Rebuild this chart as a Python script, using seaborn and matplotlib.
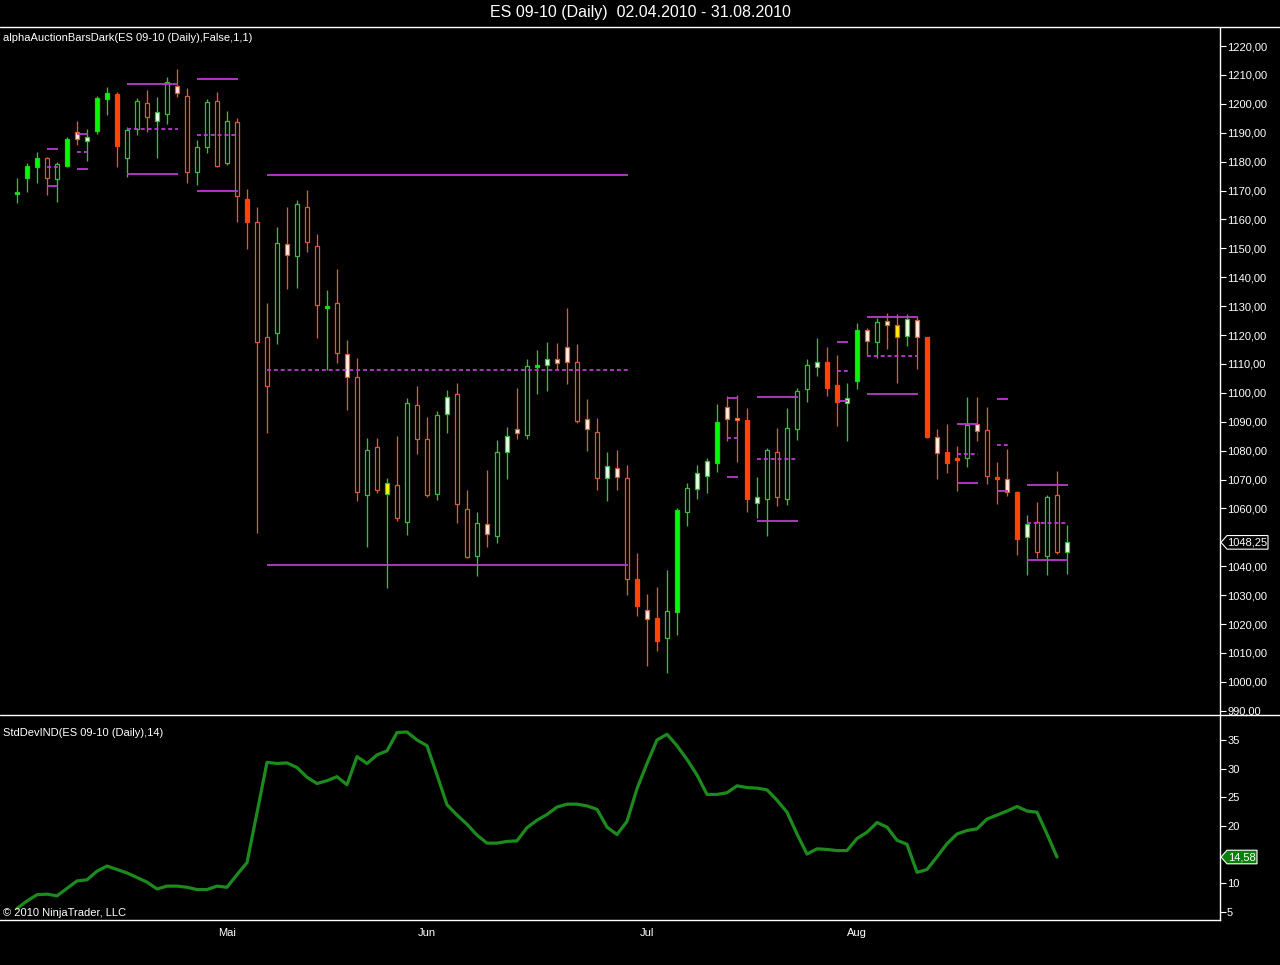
import numpy as np
import pandas as pd
import matplotlib
matplotlib.use("Agg")
import matplotlib.pyplot as plt
import seaborn as sns
from matplotlib.lines import Line2D
from matplotlib.patches import Polygon
from matplotlib.transforms import IdentityTransform

# ---------------- data ----------------
title = "ES 09-10 (Daily)  02.04.2010 - 31.08.2010"
price_label = "alphaAuctionBarsDark(ES 09-10 (Daily),False,1,1)"
ind_label = "StdDevIND(ES 09-10 (Daily),14)"
copyright_label = "\u00a9 2010 NinjaTrader, LLC"

opens = [1168.7, 1174.2, 1178.2, 1181.4, 1173.9, 1178.5, 1190.1, 1187.2, 1190.7, 1201.7,
         1203.4, 1181.1, 1191.2, 1200.2, 1194.0, 1196.4, 1206.3, 1202.8, 1176.5, 1185.2,
         1201.0, 1179.6, 1193.6, 1167.0, 1159.0, 1119.2, 1120.6, 1151.4, 1147.2, 1164.2,
         1150.8, 1129.2, 1131.0, 1113.3, 1105.4, 1064.7, 1081.1, 1064.9, 1068.1, 1055.4,
         1095.7, 1083.9, 1064.9, 1092.6, 1099.5, 1059.7, 1043.6, 1054.5, 1050.5, 1079.6,
         1087.4, 1085.4, 1109.0, 1109.7, 1111.6, 1116.0, 1110.5, 1090.8, 1086.3, 1070.4,
         1074.1, 1070.4, 1035.5, 1024.8, 1022.2, 1015.0, 1024.1, 1058.6, 1066.6, 1071.3,
         1075.8, 1095.0, 1091.2, 1090.6, 1061.8, 1063.1, 1079.4, 1063.1, 1087.4, 1101.2,
         1109.0, 1110.5, 1102.7, 1096.4, 1104.1, 1121.7, 1117.7, 1124.9, 1123.3, 1119.6,
         1125.2, 1119.2, 1084.8, 1079.4, 1077.5, 1077.3, 1089.1, 1087.1, 1070.9, 1070.1,
         1065.6, 1050.0, 1055.2, 1043.6, 1064.6, 1045.0]

highs = [1174.2, 1179.4, 1183.4, 1181.7, 1180.0, 1188.4, 1194.2, 1191.3, 1202.7, 1205.7,
         1204.0, 1192.1, 1201.9, 1204.8, 1202.2, 1209.2, 1211.9, 1205.4, 1187.5, 1201.7,
         1204.2, 1197.6, 1195.0, 1170.5, 1164.4, 1131.0, 1157.3, 1164.2, 1166.7, 1170.2,
         1155.0, 1135.6, 1142.8, 1118.3, 1111.9, 1084.3, 1084.4, 1070.4, 1085.1, 1098.3,
         1102.4, 1091.7, 1093.7, 1101.0, 1103.3, 1066.4, 1058.6, 1073.3, 1083.7, 1088.3,
         1101.8, 1111.7, 1114.8, 1117.7, 1117.1, 1129.2, 1116.9, 1097.9, 1091.2, 1079.4,
         1080.2, 1075.0, 1044.5, 1030.3, 1032.9, 1038.7, 1060.0, 1068.9, 1075.0, 1077.3,
         1096.1, 1098.9, 1099.1, 1094.6, 1071.0, 1080.8, 1087.7, 1094.6, 1101.6, 1111.6,
         1118.9, 1116.0, 1113.1, 1103.3, 1124.0, 1122.5, 1125.8, 1127.5, 1127.1, 1127.1,
         1126.4, 1119.4, 1087.5, 1089.1, 1081.6, 1098.4, 1098.4, 1095.0, 1076.2, 1080.4,
         1066.0, 1057.7, 1062.1, 1064.6, 1072.9, 1054.3]

lows = [1165.6, 1169.6, 1172.5, 1168.4, 1166.1, 1178.2, 1185.7, 1180.3, 1189.5, 1196.1,
        1178.0, 1174.8, 1189.2, 1190.1, 1181.1, 1193.0, 1202.2, 1172.7, 1171.9, 1182.9,
        1178.0, 1178.8, 1159.2, 1149.8, 1051.4, 1086.0, 1116.8, 1135.8, 1136.4, 1148.8,
        1119.1, 1107.9, 1110.4, 1094.0, 1062.7, 1046.7, 1065.4, 1032.4, 1055.7, 1050.8,
        1078.7, 1064.0, 1062.9, 1086.2, 1054.8, 1042.7, 1036.7, 1046.7, 1047.9, 1070.2,
        1084.0, 1084.0, 1099.6, 1100.7, 1107.9, 1103.0, 1089.4, 1079.9, 1066.4, 1062.7,
        1066.4, 1030.0, 1022.8, 1005.6, 1010.8, 1002.9, 1016.2, 1054.0, 1063.1, 1065.2,
        1072.7, 1083.4, 1076.2, 1058.9, 1056.6, 1050.6, 1060.8, 1061.2, 1083.7, 1096.9,
        1105.9, 1099.0, 1088.6, 1083.3, 1101.2, 1113.1, 1112.2, 1115.2, 1103.5, 1116.3,
        1108.1, 1084.3, 1070.2, 1072.1, 1066.0, 1074.4, 1083.3, 1068.4, 1061.5, 1064.4,
        1043.9, 1037.0, 1043.0, 1037.0, 1044.1, 1037.2]

closes = [1169.4, 1178.5, 1181.4, 1174.2, 1179.1, 1187.8, 1187.7, 1188.5, 1201.9, 1203.9,
          1185.5, 1190.9, 1201.0, 1195.5, 1197.0, 1207.4, 1203.6, 1176.3, 1185.2, 1200.7,
          1178.5, 1194.0, 1168.1, 1159.2, 1117.7, 1102.5, 1151.7, 1147.6, 1165.3, 1152.1,
          1130.5, 1130.0, 1113.9, 1105.4, 1065.6, 1080.2, 1066.4, 1068.7, 1056.8, 1096.4,
          1083.9, 1064.6, 1092.3, 1098.7, 1061.4, 1043.3, 1054.8, 1051.0, 1079.4, 1085.1,
          1086.2, 1109.3, 1109.6, 1111.6, 1110.2, 1110.5, 1090.4, 1087.4, 1070.4, 1074.8,
          1071.0, 1035.5, 1026.3, 1021.8, 1014.2, 1024.5, 1059.4, 1067.0, 1072.4, 1076.5,
          1089.8, 1090.8, 1090.5, 1063.1, 1063.8, 1080.2, 1064.1, 1087.7, 1100.6, 1109.6,
          1110.8, 1101.8, 1096.9, 1098.2, 1121.7, 1118.0, 1124.4, 1123.3, 1119.4, 1125.5,
          1119.4, 1084.6, 1079.3, 1075.8, 1076.8, 1088.9, 1086.8, 1071.2, 1070.3, 1065.6,
          1049.4, 1054.5, 1044.8, 1063.8, 1045.0, 1048.25]

bar_kind = ['G', 'G', 'G', 'r', 'g', 'G', 'wr', 'wg', 'G', 'G',
            'R', 'g', 'g', 'r', 'wg', 'g', 'wr', 'r', 'g', 'g',
            'r', 'g', 'r', 'R', 'r', 'r', 'g', 'wr', 'g', 'r',
            'r', 'G', 'r', 'wr', 'r', 'g', 'r', 'yg', 'r', 'g',
            'r', 'r', 'g', 'wg', 'r', 'r', 'g', 'wr', 'g', 'wg',
            'wr', 'g', 'G', 'wg', 'wr', 'wr', 'r', 'wr', 'r', 'wg',
            'wr', 'r', 'R', 'wr', 'R', 'g', 'G', 'g', 'wg', 'wg',
            'G', 'wr', 'wr', 'R', 'wg', 'g', 'r', 'g', 'g', 'g',
            'wg', 'R', 'R', 'wg', 'G', 'wr', 'g', 'wr', 'yr', 'wg',
            'wr', 'R', 'wr', 'R', 'R', 'g', 'wr', 'r', 'R', 'wr',
            'R', 'wg', 'r', 'g', 'r', 'wg']

stddev = [5.6, 6.9, 8.0, 8.1, 7.8, 9.1, 10.4, 10.6, 12.1, 13.0,
          12.4, 11.8, 11.0, 10.2, 9.0, 9.5, 9.5, 9.3, 8.9, 8.9,
          9.5, 9.3, 11.5, 13.6, 22.3, 31.1, 30.9, 31.0, 30.2, 28.5,
          27.4, 27.9, 28.6, 27.2, 32.1, 30.9, 32.4, 33.1, 36.3, 36.4,
          35.0, 34.0, 28.9, 23.7, 21.9, 20.3, 18.4, 17.0, 17.0, 17.3,
          17.4, 19.7, 21.0, 22.0, 23.3, 23.8, 23.8, 23.5, 22.9, 19.8,
          18.5, 20.8, 26.5, 30.9, 35.0, 36.0, 34.0, 31.6, 28.9, 25.5,
          25.5, 25.8, 27.0, 26.7, 26.6, 26.3, 24.5, 22.4, 18.6, 15.1,
          16.0, 15.9, 15.7, 15.7, 17.8, 18.9, 20.6, 19.8, 17.5, 16.8,
          11.9, 12.4, 14.6, 16.9, 18.6, 19.2, 19.5, 21.2, 21.9, 22.6,
          23.4, 22.6, 22.4, 18.6, 14.58]

# auction ranges (bar index start/end, upper and lower level)
auction_start = [3, 6, 11, 18, 25, 71, 74, 82, 85, 94, 98, 101]
auction_end = [4, 7, 16, 22, 61, 72, 78, 83, 90, 96, 99, 105]
auction_high = [1184.4, 1189.4, 1206.8, 1208.6, 1175.4, 1098.1, 1098.4, 1117.5, 1126.3, 1089.1, 1097.7, 1068.1]
auction_low = [1171.6, 1177.3, 1175.6, 1169.8, 1040.4, 1070.8, 1055.6, 1097.3, 1099.5, 1068.7, 1066.0, 1042.0]

month_bars = [21, 41, 63, 84]
month_labels = ["Mai", "Jun", "Jul", "Aug"]
price_ticks = [p for p in range(990, 1230, 10) if p != 1050]
std_ticks = [5, 10, 20, 25, 30, 35]
last_price = 1048.25
last_std = 14.58

# ---------------- styling ----------------
sns.set_theme(style="dark", rc={"axes.facecolor": "black", "figure.facecolor": "black",
                                "axes.grid": False})
plt.rcParams['font.family'] = ['Liberation Sans', 'DejaVu Sans']

W, H = 1280, 965
fig = plt.figure(figsize=(W / 100, H / 100), dpi=100, facecolor="black")


def fx(px):
    return px / W


def fy(py):
    return 1 - py / H


# pixel geometry
main_top, main_bot, low_bot, right_px = 28, 715, 920, 1220
ax = fig.add_axes([0, fy(main_bot), fx(right_px), fy(main_top) - fy(main_bot)])
ax2 = fig.add_axes([0, fy(low_bot), fx(right_px), fy(main_bot) - fy(low_bot)])

px_per_pt = 2.89
ymax = 1220 + (46 - main_top) / px_per_pt
ymin = 1220 - (main_bot - 46) / px_per_pt
ax.set_ylim(ymin, ymax)
xlim = (-1.7, 120.3)
ax.set_xlim(*xlim)
ax2.set_xlim(*xlim)
px_per_sd = 5.73
ax2.set_ylim(35 - (low_bot - 740) / px_per_sd, 35 + (740 - main_bot) / px_per_sd)

for a in (ax, ax2):
    a.set_facecolor("black")
    for s in a.spines.values():
        s.set_visible(False)
    a.spines["right"].set_visible(True)
    a.spines["right"].set_color("white")
    a.spines["right"].set_linewidth(1.0)
    a.yaxis.tick_right()
    a.tick_params(axis="y", colors="white", labelcolor="white", length=4.5, width=0.8,
                  pad=0.6, labelsize=8, direction="out")
ax2.spines["bottom"].set_visible(True)
ax2.spines["bottom"].set_color("white")
ax2.spines["bottom"].set_linewidth(1.0)

# candles
kind_style = {
    'G': ('#00ff00', '#1fd11f', '#22cc22'),
    'g': ('black', '#34c234', '#34c234'),
    'R': ('#ff4500', '#ff4500', '#e8552a'),
    'r': ('black', '#e35a2d', '#e35a2d'),
    'wg': ('#f2fff2', '#34c234', '#34c234'),
    'wr': ('#fff3ec', '#e35a2d', '#e35a2d'),
    'yg': ('#ffff00', '#34c234', '#34c234'),
    'yr': ('#ffff00', '#e35a2d', '#e35a2d'),
}
xs = np.arange(len(opens))
df = pd.DataFrame({"x": xs, "open": opens, "high": highs, "low": lows,
                   "close": closes, "kind": bar_kind})
for _, r in df.iterrows():
    fill, edge, wick = kind_style[r["kind"]]
    ax.vlines(r["x"], r["low"], r["high"], colors=wick, linewidth=0.95, zorder=2)
for _, r in df.iterrows():
    fill, edge, wick = kind_style[r["kind"]]
    lo = min(r["open"], r["close"])
    h = abs(r["close"] - r["open"])
    if h < 0.8:
        lo -= (0.8 - h) / 2
        h = 0.8
    ax.bar(r["x"], h, bottom=lo, width=0.48, color=fill, edgecolor=edge,
           linewidth=0.9, zorder=3)

# auction levels
mag = "#b93ccb"
for s, e, hi, lo in zip(auction_start, auction_end, auction_high, auction_low):
    mid = (hi + lo) / 2
    ax.hlines([hi, lo], s - 0.05, e + 0.1, colors=mag, linewidth=1.3, zorder=4)
    ax.hlines(mid, s - 0.05, e + 0.1, colors=mag, linewidth=1.3, zorder=4,
              linestyles=(0, (2.2, 1.6)))

ax.set_yticks(price_ticks)
ax.set_yticklabels([f"{p},00" for p in price_ticks])
ax.set_xticks([])

# indicator
sdf = pd.DataFrame({"bar": np.arange(len(stddev)), "sd": stddev})
sns.lineplot(data=sdf, x="bar", y="sd", ax=ax2, color="#1d8a1d", linewidth=2.3, zorder=3)
ax2.lines[-1].set_solid_joinstyle("round")
ax2.set_yticks(std_ticks)
ax2.set_yticklabels([str(t) for t in std_ticks])
ax2.set_xticks(month_bars)
ax2.set_xticklabels(month_labels)
ax2.tick_params(axis="x", colors="white", labelcolor="white", length=4, width=0.8,
                pad=2, labelsize=8, direction="out")
ax2.set_xlabel("")
ax2.set_ylabel("")
ax.set_ylabel("")

# texts
fig.text(fx(640), fy(13), title, color="white", ha="center", va="center", fontsize=11.5)
fig.text(fx(3), fy(38), price_label, color="white", ha="left", va="center", fontsize=8)
fig.text(fx(3), fy(733), ind_label, color="white", ha="left", va="center", fontsize=8)
fig.text(fx(3), fy(913), copyright_label, color="white", ha="left", va="center", fontsize=8)

# separator lines
fig.add_artist(Line2D([0, 1], [fy(27), fy(27)], transform=fig.transFigure, color="white", lw=1.0))
fig.add_artist(Line2D([0, 1], [fy(main_bot), fy(main_bot)], transform=fig.transFigure,
                      color="white", lw=1.0))


# last value markers
def marker(a, value, text, fc, ec, right):
    fig.canvas.draw()
    ydisp = a.transData.transform((0, value))[1]
    x0 = right_px + 1
    hh = 6.8
    pts = [(x0, ydisp), (x0 + 6, ydisp + hh), (right, ydisp + hh),
           (right, ydisp - hh), (x0 + 6, ydisp - hh)]
    fig.add_artist(Polygon(pts, closed=True, transform=IdentityTransform(), facecolor=fc,
                           edgecolor=ec, linewidth=0.8, zorder=10))
    fig.text((x0 + 6 + right) / 2, ydisp, text, transform=IdentityTransform(), color="white",
             ha="center", va="center", fontsize=8, zorder=11)


marker(ax, last_price, "1048,25", "black", "white", 1268)
marker(ax2, last_std, "14,58", "#0b7f0b", "white", 1257)

fig.savefig("out.png", dpi=100, facecolor="black")
